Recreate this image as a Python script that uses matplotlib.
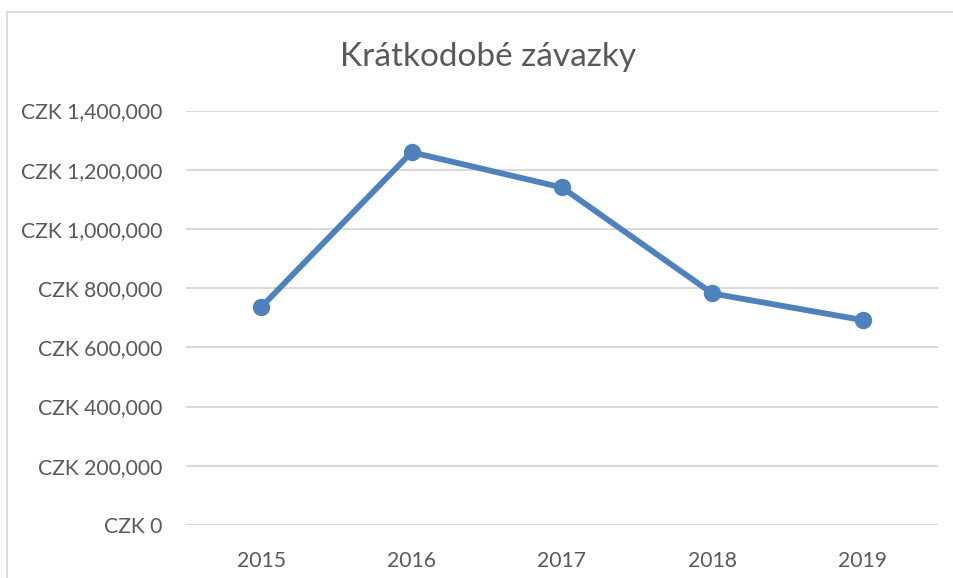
import matplotlib
matplotlib.use('Agg')
import matplotlib.pyplot as plt
from matplotlib.lines import Line2D
from matplotlib.ticker import FuncFormatter

# ── Data ──────────────────────────────────────────────────────────────────────
years  = ['2015', '2016', '2017', '2018', '2019']
values = [736000, 1259000, 1140000, 782000, 692000]
yticks = [0, 200000, 400000, 600000, 800000, 1000000, 1200000, 1400000]
title  = 'Krátkodobé závazky'

# ── Style ─────────────────────────────────────────────────────────────────────
plt.rcParams['font.family'] = ['Lato', 'DejaVu Sans']
TEXT_COL = '#595959'
GRID_COL = '#d9d9d9'
LINE_COL = '#4f81bd'

fig = plt.figure(figsize=(9.54, 5.78), dpi=100)
fig.patch.set_facecolor('white')

# chart frame (cropped on the right and bottom like the source)
fig.add_artist(Line2D([7/954, 1.0], [1 - 12/578, 1 - 12/578],
                      transform=fig.transFigure, color=GRID_COL, lw=1.2))
fig.add_artist(Line2D([7/954, 7/954], [0.0, 1 - 12/578],
                      transform=fig.transFigure, color=GRID_COL, lw=1.2))

ax = fig.add_axes([186/954, 1 - 525/578, (938 - 186)/954, (525 - 110.5)/578])
x = list(range(len(years)))
ax.plot(x, values, color=LINE_COL, lw=4.2, marker='o', markersize=11.5,
        solid_capstyle='round', zorder=3)

ax.set_xlim(-0.5, len(years) - 0.5)
ax.set_ylim(0, 1400000)
ax.set_yticks(yticks)
ax.yaxis.set_major_formatter(FuncFormatter(lambda v, p: f'CZK {int(v):,}'))
ax.set_xticks(x)
ax.set_xticklabels(years)

ax.grid(axis='y', color=GRID_COL, lw=1.4)
ax.set_axisbelow(True)
for s in ax.spines.values():
    s.set_visible(False)
ax.tick_params(length=0, labelsize=15.2, colors=TEXT_COL)
ax.tick_params(axis='y', pad=17)
ax.tick_params(axis='x', pad=19)

fig.text(488/954, 1 - 57/578, title, ha='center', va='center',
         fontsize=24, color=TEXT_COL)

fig.savefig('out.png', dpi=100)
